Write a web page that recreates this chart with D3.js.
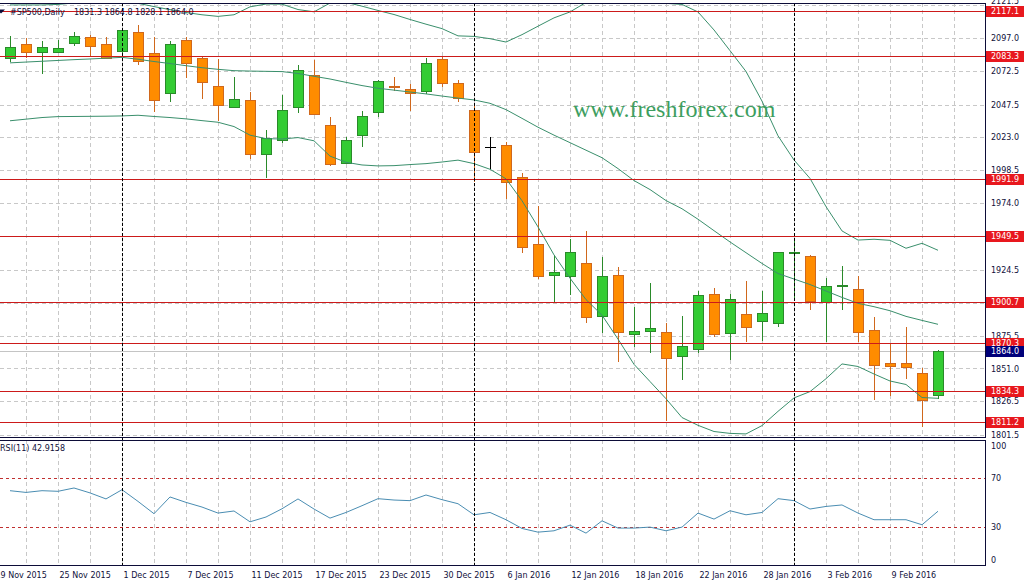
<!DOCTYPE html>
<html>
<head>
<meta charset="utf-8">
<script src="https://cdn.jsdelivr.net/npm/d3@7"></script>
<style>
  html, body { margin: 0; padding: 0; background: #fff; }
  svg { display: block; }
  text { font-family: "DejaVu Sans", Tahoma, sans-serif; font-size: 8px; fill: #10103a; }
</style>
</head>
<body>
<div id="chart"></div>
<script>
// daily bars, #SP500 CFD
const dates = [
  "20 Nov 2015", "23 Nov 2015", "24 Nov 2015", "25 Nov 2015", "26 Nov 2015", "27 Nov 2015", "30 Nov 2015",
  "1 Dec 2015", "2 Dec 2015", "3 Dec 2015", "4 Dec 2015", "7 Dec 2015", "8 Dec 2015", "9 Dec 2015", "10 Dec 2015",
  "11 Dec 2015", "14 Dec 2015", "15 Dec 2015", "16 Dec 2015", "17 Dec 2015", "18 Dec 2015", "21 Dec 2015",
  "22 Dec 2015", "23 Dec 2015", "24 Dec 2015", "28 Dec 2015", "29 Dec 2015", "30 Dec 2015", "31 Dec 2015",
  "4 Jan 2016", "5 Jan 2016", "6 Jan 2016", "7 Jan 2016", "8 Jan 2016", "11 Jan 2016", "12 Jan 2016",
  "13 Jan 2016", "14 Jan 2016", "15 Jan 2016", "18 Jan 2016", "19 Jan 2016", "20 Jan 2016", "21 Jan 2016",
  "22 Jan 2016", "25 Jan 2016", "26 Jan 2016", "27 Jan 2016", "28 Jan 2016", "29 Jan 2016", "1 Feb 2016",
  "2 Feb 2016", "3 Feb 2016", "4 Feb 2016", "5 Feb 2016", "8 Feb 2016", "9 Feb 2016", "10 Feb 2016",
  "11 Feb 2016", "12 Feb 2016"
];

const open = [
  2081.9, 2092.5, 2086.4, 2086.8, 2093.1, 2097.5, 2092.3, 2087.6, 2101.2, 2085.6,
  2055.8, 2095.3, 2081.9, 2061.1, 2045.9, 2050.9, 2010.4, 2021.1, 2045.9, 2069.5,
  2032.3, 2003.7, 2025.0, 2041.7, 2061.1, 2058.8, 2057.3, 2081.2, 2063.5, 2043.2,
  2016.1, 2017.1, 1993.8, 1943.5, 1920.4, 1920.1, 1929.3, 1890.3, 1920.4, 1876.5,
  1879.2, 1878.0, 1860.5, 1865.3, 1906.2, 1877.7, 1891.4, 1886.2, 1884.7, 1936.8,
  1934.5, 1900.7, 1912.6, 1910.0, 1879.5, 1855.1, 1855.1, 1847.7, 1831.3
];
const high = [
  2098.5, 2096.8, 2094.8, 2095.5, 2101.2, 2099.2, 2097.5, 2103.5, 2106.7, 2097.5,
  2095.0, 2097.5, 2083.1, 2081.4, 2067.8, 2056.8, 2028.5, 2054.6, 2076.9, 2080.6,
  2038.0, 2023.5, 2042.7, 2065.7, 2067.8, 2062.5, 2081.9, 2083.1, 2065.7, 2048.4,
  2023.5, 2019.8, 1996.8, 1972.0, 1935.5, 1947.4, 1953.4, 1933.8, 1926.8, 1897.0,
  1914.4, 1885.1, 1890.1, 1908.7, 1910.9, 1906.5, 1916.1, 1908.7, 1938.0, 1945.9,
  1935.5, 1918.2, 1927.3, 1919.9, 1889.6, 1869.3, 1882.1, 1851.2, 1864.8
];
const low = [
  2079.4, 2081.9, 2070.0, 2085.6, 2091.3, 2083.6, 2081.2, 2085.6, 2076.9, 2042.2,
  2049.6, 2067.0, 2051.8, 2035.5, 2044.7, 2007.2, 1992.8, 2018.6, 2041.0, 2039.7,
  2001.7, 2003.0, 2015.7, 2038.4, 2057.8, 2042.9, 2055.1, 2060.8, 2049.6, 1989.8,
  1999.3, 1977.0, 1937.2, 1917.4, 1899.6, 1905.7, 1884.7, 1877.7, 1856.1, 1866.8,
  1862.8, 1811.9, 1842.5, 1862.3, 1874.7, 1857.3, 1870.5, 1871.5, 1882.1, 1902.0,
  1894.6, 1870.5, 1894.6, 1870.5, 1827.6, 1830.8, 1843.2, 1807.7, 1828.1
];
const close = [
  2090.1, 2086.8, 2090.1, 2089.3, 2098.5, 2091.3, 2081.9, 2102.7, 2079.7, 2050.6,
  2092.3, 2078.2, 2064.0, 2046.9, 2051.4, 2010.9, 2022.4, 2043.2, 2073.2, 2040.2,
  2003.0, 2021.1, 2039.0, 2065.0, 2060.5, 2055.8, 2078.2, 2063.3, 2052.6, 2011.9,
  2016.1, 1989.6, 1941.7, 1920.1, 1922.6, 1937.7, 1889.3, 1919.6, 1878.4, 1879.2,
  1880.9, 1858.6, 1867.8, 1905.5, 1876.9, 1902.5, 1881.7, 1892.1, 1937.7, 1937.8,
  1901.5, 1912.2, 1913.2, 1878.4, 1853.4, 1852.7, 1851.9, 1827.4, 1864.0
];

// Bollinger bands
const bbUpper = [
  2121.6, 2121.6, 2121.6, 2122.0, 2123.1, 2124.0, 2125.1, 2126.2, 2122.8, 2120.4,
  2118.1, 2116.0, 2114.3, 2113.1, 2114.3, 2120.2, 2122.3, 2122.2, 2118.2, 2116.5,
  2123.0, 2123.6, 2120.7, 2117.5, 2114.5, 2110.8, 2107.3, 2104.0, 2098.6, 2098.2,
  2096.5, 2094.0, 2099.5, 2105.8, 2112.0, 2116.4, 2123.5, 2125.1, 2126.7, 2125.0,
  2122.8, 2122.8, 2122.0, 2116.4, 2103.0, 2087.6, 2072.1, 2050.0, 2024.2, 2006.2,
  1992.5, 1971.5, 1953.4, 1946.6, 1947.2, 1946.4, 1940.5, 1944.2, 1939.0
];
const bbMiddle = [
  2078.5, 2079.1, 2079.7, 2080.3, 2080.9, 2081.4, 2082.0, 2082.6, 2081.2, 2079.5,
  2078.0, 2076.4, 2074.9, 2073.7, 2072.7, 2072.4, 2072.2, 2072.0, 2070.6, 2068.5,
  2066.5, 2064.0, 2061.6, 2059.6, 2058.2, 2056.8, 2055.4, 2053.8, 2052.3, 2050.9,
  2048.4, 2043.7, 2037.2, 2030.6, 2024.7, 2019.1, 2013.5, 2007.9, 1999.8, 1990.9,
  1984.2, 1976.0, 1969.9, 1962.1, 1953.6, 1945.2, 1937.2, 1929.2, 1921.7, 1917.6,
  1913.5, 1908.7, 1903.9, 1899.5, 1897.0, 1894.0, 1889.8, 1886.8, 1883.9
];
const bbLower = [
  2035.4, 2036.6, 2037.8, 2038.5, 2038.6, 2038.7, 2038.8, 2039.0, 2039.5, 2038.6,
  2037.8, 2036.8, 2035.5, 2034.3, 2031.1, 2024.7, 2022.1, 2021.8, 2022.9, 2020.5,
  2009.1, 2004.5, 2002.5, 2001.8, 2002.0, 2002.8, 2003.5, 2004.7, 2006.1, 2003.5,
  1999.3, 1992.2, 1975.9, 1956.4, 1935.6, 1918.2, 1902.3, 1890.7, 1872.9, 1854.1,
  1841.3, 1828.5, 1814.5, 1808.7, 1804.1, 1802.7, 1802.3, 1808.5, 1819.1, 1829.1,
  1833.8, 1843.4, 1854.4, 1852.5, 1846.9, 1841.7, 1839.1, 1829.4, 1828.8
];

const rsi = [
  59.6, 58.2, 59.6, 59.1, 61.8, 57.8, 52.9, 60.4, 50.9, 40.9,
  54.5, 50.1, 46.3, 41.4, 43.1, 34.3, 38.2, 44.9, 52.9, 44.7,
  37.3, 41.9, 47.4, 53.1, 52.0, 51.5, 56.1, 52.3, 49.0, 40.0,
  41.9, 36.0, 28.9, 25.9, 27.0, 31.6, 25.1, 35.1, 29.2, 29.2,
  30.0, 27.0, 30.0, 41.4, 36.5, 43.3, 40.0, 41.9, 53.1, 51.5,
  44.7, 46.8, 48.0, 41.4, 36.0, 36.0, 36.0, 31.9, 42.9
];

const priceTicks = [2121.5, 2097.0, 2072.5, 2047.5, 2023.0, 1998.5, 1974.0, 1949.5, 1924.5, 1900.0, 1875.5, 1851.0, 1826.5, 1801.5];
const levelLines = [2117.1, 2083.3, 1991.9, 1949.5, 1900.7, 1870.3, 1834.3, 1811.2];
const bidPrice = 1864.0;
const rsiTicks = [100, 70, 30, 0];
const rsiLevels = [70, 30];
// "19 Nov 2015" is the bar just before the first one shown (indexOf gives -1)
const dateTicks = ["19 Nov 2015", "25 Nov 2015", "1 Dec 2015", "7 Dec 2015", "11 Dec 2015", "17 Dec 2015",
  "23 Dec 2015", "30 Dec 2015", "6 Jan 2016", "12 Jan 2016", "18 Jan 2016", "22 Jan 2016", "28 Jan 2016",
  "3 Feb 2016", "9 Feb 2016"];

const width = 1027, height = 585;
const plotRight = 985;
const main = { top: 3, bottom: 437 };
const sub = { top: 440, bottom: 565 };

const frameColor = "#0c0c38";
const gridColor = "#c8c8c8";
const bullFill = "#33cc33", bullLine = "#2a8a2a";
const bearFill = "#ff8c00", bearLine = "#d0681c";

const svg = d3.select("#chart").append("svg")
  .attr("width", width)
  .attr("height", height);

const x = d3.scaleLinear().domain([0, dates.length - 1]).range([10, 938]);
const y = d3.scaleLinear().domain([1801.5, 2121.5]).range([435, 5.1]);
const yR = d3.scaleLinear().domain([0, 100]).range([564, 441]);

const crisp = v => Math.round(v) + 0.5;

const defs = svg.append("defs");
defs.append("clipPath").attr("id", "clipMain")
  .append("rect").attr("x", 0).attr("y", main.top + 1).attr("width", plotRight).attr("height", main.bottom - main.top - 1);
defs.append("clipPath").attr("id", "clipSub")
  .append("rect").attr("x", 0).attr("y", sub.top + 1).attr("width", plotRight).attr("height", sub.bottom - sub.top - 1);

const gMain = svg.append("g").attr("clip-path", "url(#clipMain)");
const gSub = svg.append("g").attr("clip-path", "url(#clipSub)");

// grid: vertical every 2 bars, horizontal on price ticks
const gridBars = d3.range(1, dates.length + 1, 2);
[[gMain, main], [gSub, sub]].forEach(([g, p]) => {
  g.append("g").selectAll("line")
    .data(gridBars)
    .join("line")
    .attr("x1", d => crisp(x(d))).attr("x2", d => crisp(x(d)))
    .attr("y1", p.top).attr("y2", p.bottom)
    .attr("stroke", gridColor)
    .attr("stroke-dasharray", "4,3");
});

gMain.append("g").selectAll("line")
  .data(priceTicks)
  .join("line")
  .attr("x1", 0).attr("x2", plotRight)
  .attr("y1", d => crisp(y(d))).attr("y2", d => crisp(y(d)))
  .attr("stroke", gridColor)
  .attr("stroke-dasharray", "4,3");

// bid line
gMain.append("line")
  .attr("x1", 0).attr("x2", plotRight)
  .attr("y1", crisp(y(bidPrice))).attr("y2", crisp(y(bidPrice)))
  .attr("stroke", "#c4c4c4");

// period separators (first bar of each month)
const separators = dates.map((d, i) => i).filter(i => i > 0 && dates[i].split(" ")[1] !== dates[i - 1].split(" ")[1]);
svg.append("g").selectAll("line")
  .data(separators)
  .join("line")
  .attr("x1", d => crisp(x(d))).attr("x2", d => crisp(x(d)))
  .attr("y1", main.top).attr("y2", sub.bottom)
  .attr("stroke", "#000")
  .attr("stroke-dasharray", "3,2");

// candles
const bars = dates.map((d, i) => ({ i, o: open[i], h: high[i], l: low[i], c: close[i] }));
const candle = gMain.append("g").selectAll("g")
  .data(bars)
  .join("g");

candle.append("line")
  .attr("x1", d => Math.round(x(d.i)) + 0.5)
  .attr("x2", d => Math.round(x(d.i)) + 0.5)
  .attr("y1", d => Math.round(y(d.h)))
  .attr("y2", d => Math.round(y(d.l)))
  .attr("stroke", d => d.c === d.o ? "#000" : (d.c > d.o ? bullLine : bearLine));

candle.filter(d => d.c !== d.o).append("rect")
  .attr("x", d => Math.round(x(d.i)) - 4.5)
  .attr("y", d => Math.round(y(Math.max(d.o, d.c))) + 0.5)
  .attr("width", 10)
  .attr("height", d => Math.max(1, Math.round(y(Math.min(d.o, d.c))) - Math.round(y(Math.max(d.o, d.c)))))
  .attr("fill", d => d.c > d.o ? bullFill : bearFill)
  .attr("stroke", d => d.c > d.o ? bullLine : bearLine);

candle.filter(d => d.c === d.o).append("line")
  .attr("x1", d => Math.round(x(d.i)) - 5)
  .attr("x2", d => Math.round(x(d.i)) + 6)
  .attr("y1", d => crisp(y(d.o)))
  .attr("y2", d => crisp(y(d.o)))
  .attr("stroke", "#000");

// bollinger bands
[bbUpper, bbMiddle, bbLower].forEach(series => {
  gMain.append("path")
    .datum(series)
    .attr("fill", "none")
    .attr("stroke", "#3a8f6c")
    .attr("stroke-width", 1)
    .attr("d", d3.line().x((d, i) => x(i)).y(d => y(d)));
});

// horizontal level lines
gMain.append("g").selectAll("line")
  .data(levelLines)
  .join("line")
  .attr("x1", 0).attr("x2", plotRight)
  .attr("y1", d => crisp(y(d))).attr("y2", d => crisp(y(d)))
  .attr("stroke", "#cc1a1a");

// watermark
gMain.append("text")
  .attr("x", 573)
  .attr("y", 117)
  .style("font-family", "'Liberation Serif', 'Times New Roman', serif")
  .style("font-size", "24px")
  .style("fill", "#3d9e5f")
  .text("www.freshforex.com");

// RSI
gSub.append("g").selectAll("line")
  .data(rsiLevels)
  .join("line")
  .attr("x1", 0).attr("x2", plotRight)
  .attr("y1", d => crisp(yR(d))).attr("y2", d => crisp(yR(d)))
  .attr("stroke", "#c03030")
  .attr("stroke-dasharray", "3,3");

gSub.append("path")
  .datum(rsi)
  .attr("fill", "none")
  .attr("stroke", "#4a8db2")
  .attr("stroke-width", 1)
  .attr("d", d3.line().x((d, i) => x(i)).y(d => yR(d)));

// frames
const frame = svg.append("g").attr("stroke", frameColor).attr("fill", "none");
[main.top, main.bottom, sub.top, sub.bottom].forEach(v => {
  frame.append("line").attr("x1", 0).attr("x2", plotRight).attr("y1", v + 0.5).attr("y2", v + 0.5);
});
frame.append("line").attr("x1", plotRight + 0.5).attr("x2", plotRight + 0.5).attr("y1", main.top).attr("y2", main.bottom + 1);
frame.append("line").attr("x1", plotRight + 0.5).attr("x2", plotRight + 0.5).attr("y1", sub.top).attr("y2", sub.bottom + 1);

// price axis
const priceAxis = svg.append("g")
  .attr("transform", `translate(${plotRight},0)`)
  .call(d3.axisRight(y).tickValues(priceTicks).tickSize(0).tickPadding(6).tickFormat(d3.format(".1f")));
priceAxis.select(".domain").remove();
// top label sits mostly above the window edge
priceAxis.selectAll(".tick").filter(d => d === priceTicks[0]).select("text").attr("dy", "-0.25em");

// level labels
const tag = (value, bg) => {
  const yy = Math.round(y(value));
  svg.append("rect")
    .attr("x", plotRight + 1).attr("y", yy - 5)
    .attr("width", 38).attr("height", 11)
    .attr("fill", bg);
  svg.append("text")
    .attr("x", plotRight + 6).attr("y", yy + 0.5)
    .attr("dy", "0.32em")
    .style("fill", "#fff")
    .text(d3.format(".1f")(value));
};
levelLines.forEach(v => tag(v, "#e8181e"));
tag(bidPrice, "#00007a");

// RSI axis
const rsiAxis = svg.append("g")
  .attr("transform", `translate(${plotRight},0)`)
  .call(d3.axisRight(yR).tickValues(rsiTicks).tickSize(0).tickPadding(6));
rsiAxis.select(".domain").remove();
rsiAxis.selectAll(".tick").filter(d => d === 100).select("text").attr("dy", "0.95em");
rsiAxis.selectAll(".tick").filter(d => d === 0).select("text").attr("dy", "-0.2em");

// date axis
svg.append("g").selectAll("text")
  .data(dateTicks)
  .join("text")
  .attr("x", d => x(dates.indexOf(d)) + 1.5)
  .attr("y", 578)
  .text(d => d);

// headers
svg.append("path").attr("d", "M-3,9.5 L5,9.5 L1,13.5 Z").attr("fill", frameColor);
const head = svg.append("text").attr("y", 15);
head.append("tspan").attr("x", 10).text("#SP500,Daily");
head.append("tspan").attr("x", 74)
  .text([open, high, low, close].map(s => s[s.length - 1].toFixed(1)).join(" "));

svg.append("text").attr("x", 0).attr("y", 451)
  .text(`RSI(11) ${(42.9158).toFixed(4)}`);
</script>
</body>
</html>
